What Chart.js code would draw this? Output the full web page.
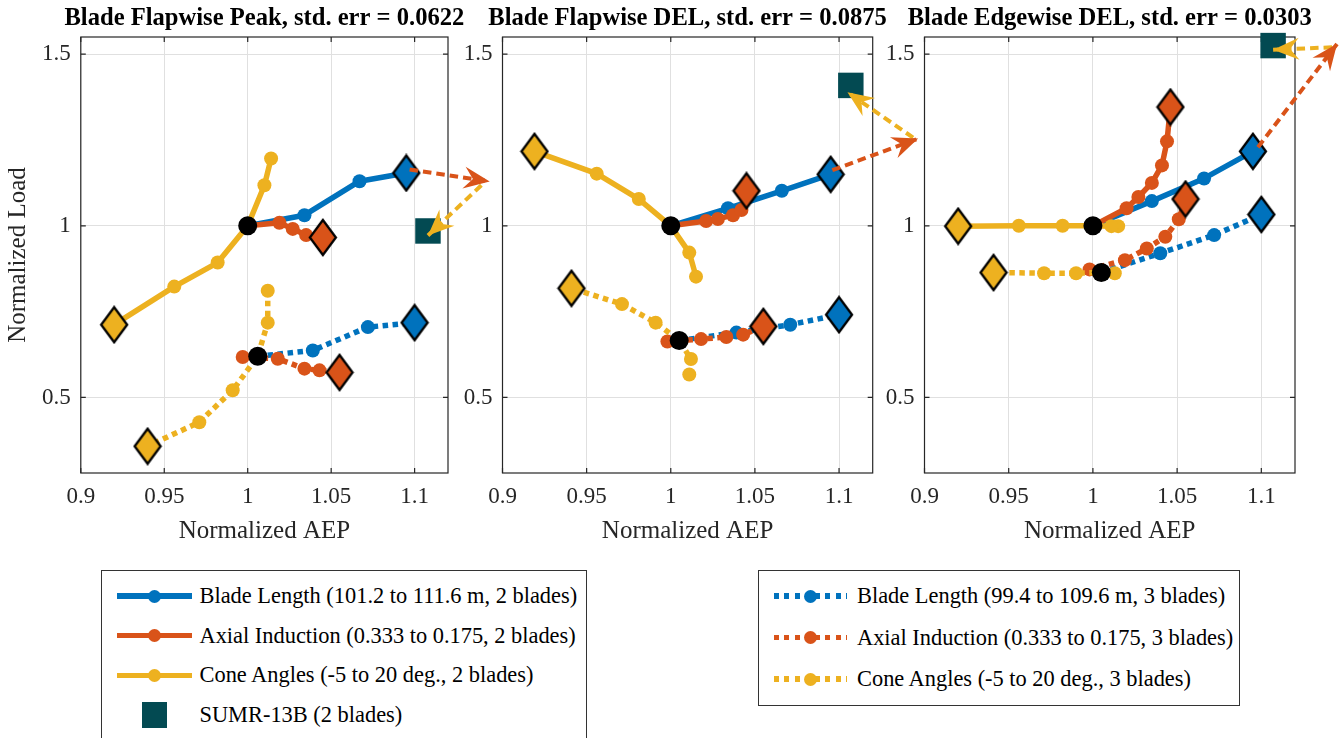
<!DOCTYPE html>
<html>
<head>
<meta charset="utf-8">
<script src="https://cdn.jsdelivr.net/npm/chart.js@4.4.0/dist/chart.umd.min.js"></script>
<style>
html,body{margin:0;padding:0;background:#fff;}
body{width:1340px;height:738px;position:relative;overflow:hidden;font-family:'Liberation Serif','Times New Roman',serif;}
canvas.cv{position:absolute;top:0;}
.legend{position:absolute;border:1px solid #333;background:#fff;box-sizing:border-box;}
.item{position:absolute;left:0;right:0;height:0;}
.txt{position:absolute;top:0;transform:translateY(-50%);font-size:22.4px;line-height:1;color:#000;white-space:nowrap;}
.solid{position:absolute;height:5.5px;top:-2.75px;}
.dotted{position:absolute;height:5.5px;top:-2.75px;}
.dot{position:absolute;width:13px;height:13px;border-radius:50%;top:-6.5px;}
.sq{position:absolute;width:25px;height:26px;top:-13px;}
</style>
</head>
<body>
<canvas class="cv" id="c1" width="500" height="560" style="left:0px;width:500px;height:560px"></canvas>
<canvas class="cv" id="c2" width="500" height="560" style="left:440px;width:500px;height:560px"></canvas>
<canvas class="cv" id="c3" width="480" height="560" style="left:860px;width:480px;height:560px"></canvas>
<div id="leg1" class="legend" style="left:101px;top:570px;width:486px;height:200px"></div>
<div id="leg2" class="legend" style="left:758px;top:570px;width:482px;height:136px"></div>
<script>
// ---------------- DATA ----------------
const xTicks = [0.9, 0.95, 1, 1.05, 1.1];
const xTickLabels = ['0.9', '0.95', '1', '1.05', '1.1'];
const yTicks = [0.5, 1, 1.5];
const yTickLabels = ['0.5', '1', '1.5'];
const panelTitles = ['Blade Flapwise Peak, std. err = 0.0622', 'Blade Flapwise DEL, std. err = 0.0875', 'Blade Edgewise DEL, std. err = 0.0303'];
const legendLabels2 = ['Blade Length (101.2 to 111.6 m, 2 blades)', 'Axial Induction (0.333 to 0.175, 2 blades)', 'Cone Angles (-5 to 20 deg., 2 blades)', 'SUMR-13B (2 blades)'];
const legendLabels3 = ['Blade Length (99.4 to 109.6 m, 3 blades)', 'Axial Induction (0.333 to 0.175, 3 blades)', 'Cone Angles (-5 to 20 deg., 3 blades)'];

// Panel 1: Blade Flapwise Peak  ([AEP, Load] pairs; last point = end marker)
const p1Len2  = [[1.000,1.000],[1.034,1.031],[1.067,1.130],[1.095,1.154]];
const p1Ind2  = [[1.000,1.000],[1.019,1.009],[1.027,0.991],[1.035,0.973],[1.045,0.966]];
const p1Cone2 = [[1.014,1.196],[1.010,1.118],[1.000,1.000],[0.982,0.893],[0.956,0.823],[0.920,0.712]];
const p1Len3  = [[1.006,0.620],[1.039,0.637],[1.072,0.705],[1.100,0.718]];
const p1Ind3  = [[0.997,0.618],[1.018,0.613],[1.034,0.584],[1.043,0.579],[1.055,0.573]];
const p1Cone3 = [[1.012,0.811],[1.012,0.718],[1.006,0.620],[0.991,0.521],[0.971,0.428],[0.940,0.358]];
const p1Base  = [[1.000,1.000],[1.006,0.620]];
const p1Sumr  = [[1.108,0.985]];
const p1ArrowInd  = [[1.097,1.164],[1.145,1.129]];
const p1ArrowCone = [[1.140,1.118],[1.108,0.972]];

// Panel 2: Blade Flapwise DEL
const p2Len2  = [[1.000,1.000],[1.034,1.051],[1.066,1.102],[1.095,1.150]];
const p2Ind2  = [[1.000,1.000],[1.021,1.014],[1.028,1.020],[1.037,1.031],[1.042,1.046],[1.045,1.102]];
const p2Cone2 = [[1.015,0.852],[1.011,0.922],[1.000,1.000],[0.981,1.078],[0.956,1.152],[0.919,1.217]];
const p2Len3  = [[1.005,0.666],[1.039,0.689],[1.071,0.712],[1.100,0.741]];
const p2Ind3  = [[0.998,0.663],[1.018,0.670],[1.033,0.676],[1.043,0.683],[1.055,0.707]];
const p2Cone3 = [[1.011,0.567],[1.012,0.612],[1.005,0.666],[0.991,0.718],[0.971,0.772],[0.941,0.818]];
const p2Base  = [[1.000,1.000],[1.005,0.666]];
const p2Sumr  = [[1.107,1.409]];
const p2ArrowInd  = [[1.096,1.162],[1.147,1.254]];
const p2ArrowCone = [[1.144,1.257],[1.105,1.389]];

// Panel 3: Blade Edgewise DEL
const p3Len2  = [[1.000,1.000],[1.035,1.072],[1.066,1.138],[1.095,1.217]];
const p3Ind2  = [[1.000,1.000],[1.020,1.051],[1.027,1.084],[1.035,1.125],[1.041,1.176],[1.044,1.246],[1.046,1.346]];
const p3Cone2 = [[1.015,0.999],[1.011,0.999],[1.000,1.000],[0.982,1.000],[0.956,1.000],[0.920,0.999]];
const p3Len3  = [[1.005,0.864],[1.040,0.920],[1.072,0.973],[1.100,1.033]];
const p3Ind3  = [[0.998,0.873],[1.019,0.900],[1.032,0.934],[1.043,0.968],[1.051,1.019],[1.055,1.078]];
const p3Cone3 = [[1.013,0.862],[1.005,0.864],[0.990,0.862],[0.971,0.862],[0.941,0.864]];
const p3Base  = [[1.000,1.000],[1.005,0.864]];
const p3Sumr  = [[1.107,1.525]];
const p3ArrowInd  = [[1.098,1.229],[1.145,1.530]];
const p3ArrowCone = [[1.142,1.520],[1.107,1.513]];

// ---------------- STYLE ----------------
const FONT = "'Liberation Serif','Times New Roman',serif";
const BLUE = '#0072BD', ORANGE = '#D95319', YELLOW = '#EDB120', SUMR = '#034A52';
const AX = '#262626';

function diamondImg(color) {
  const c = document.createElement('canvas');
  c.width = 30; c.height = 39;
  const g = c.getContext('2d');
  g.beginPath();
  g.moveTo(15, 2); g.lineTo(28, 19.5); g.lineTo(15, 37); g.lineTo(2, 19.5); g.closePath();
  g.fillStyle = color; g.fill();
  g.lineWidth = 2.3; g.strokeStyle = '#000'; g.lineJoin = 'miter'; g.stroke();
  return c;
}
const DIAMONDS = {[BLUE]: diamondImg(BLUE), [ORANGE]: diamondImg(ORANGE), [YELLOW]: diamondImg(YELLOW)};

const toXY = arr => arr.map(([x, y]) => ({x, y}));

function series(arr, color, dotted, order) {
  const n = arr.length;
  return {
    data: toXY(arr),
    showLine: true,
    borderColor: color,
    backgroundColor: color,
    borderWidth: 5.5,
    borderDash: dotted ? [5.5, 4.5] : [],
    borderCapStyle: 'butt',
    borderJoinStyle: 'round',
    pointStyle: ctx => (ctx.dataIndex === n - 1 ? DIAMONDS[color] : 'circle'),
    pointRadius: 7,
    pointBackgroundColor: color,
    pointBorderWidth: 0,
    order
  };
}
function baseline(arr) {
  return {data: toXY(arr), showLine: false, pointStyle: 'circle', pointRadius: 9.5,
    pointBackgroundColor: '#000', pointBorderWidth: 0, order: 2};
}
function sumr(arr) {
  return {data: toXY(arr), showLine: false, pointStyle: 'rect', pointRadius: 18,
    pointBackgroundColor: SUMR, pointBorderWidth: 0, clip: false, order: 1};
}
function arrow(arr, color) {
  return {data: toXY(arr), showLine: true, borderColor: color, borderWidth: 4,
    borderDash: [8.5, 5], borderCapStyle: 'butt', pointRadius: 0, clip: false,
    arrowHead: true, order: 0};
}

const arrowPlugin = {
  id: 'arrowHeads',
  afterDatasetsDraw(chart) {
    const ctx = chart.ctx;
    chart.data.datasets.forEach((ds, i) => {
      if (!ds.arrowHead) return;
      const pts = chart.getDatasetMeta(i).data;
      const a = pts[pts.length - 2], b = pts[pts.length - 1];
      const dx = b.x - a.x, dy = b.y - a.y, len = Math.hypot(dx, dy);
      const ux = dx / len, uy = dy / len, nx = -uy, ny = ux;
      const L = 26, W = 11, N = 17;
      ctx.save();
      ctx.fillStyle = ds.borderColor;
      ctx.beginPath();
      ctx.moveTo(b.x, b.y);
      ctx.lineTo(b.x - L * ux + W * nx, b.y - L * uy + W * ny);
      ctx.lineTo(b.x - N * ux, b.y - N * uy);
      ctx.lineTo(b.x - L * ux - W * nx, b.y - L * uy - W * ny);
      ctx.closePath();
      ctx.fill();
      ctx.restore();
    });
  }
};

const boxPlugin = {
  id: 'axesBox',
  beforeDatasetsDraw(chart) {
    const {ctx, chartArea: ca, scales} = chart;
    ctx.save();
    ctx.strokeStyle = AX; ctx.lineWidth = 1.2;
    ctx.strokeRect(ca.left, ca.top, ca.right - ca.left, ca.bottom - ca.top);
    const T = 5;
    ctx.beginPath();
    scales.x.ticks.forEach(t => {
      const px = scales.x.getPixelForValue(t.value);
      ctx.moveTo(px, ca.bottom); ctx.lineTo(px, ca.bottom - T);
      ctx.moveTo(px, ca.top); ctx.lineTo(px, ca.top + T);
    });
    scales.y.ticks.forEach(t => {
      const py = scales.y.getPixelForValue(t.value);
      ctx.moveTo(ca.left, py); ctx.lineTo(ca.left + T, py);
      ctx.moveTo(ca.right, py); ctx.lineTo(ca.right - T, py);
    });
    ctx.stroke();
    ctx.restore();
  }
};

const titlePlugin = {
  id: 'panelTitle',
  afterDraw(chart, args, opts) {
    const {ctx, chartArea: ca} = chart;
    ctx.save();
    ctx.font = 'bold 24.6px ' + FONT;
    ctx.fillStyle = '#000';
    ctx.textAlign = 'center';
    ctx.textBaseline = 'middle';
    ctx.fillText(opts.text, (ca.left + ca.right) / 2, 19);
    ctx.restore();
  }
};

function makePanel(id, idx, yWidth, padRight, len2, ind2, cone2, len3, ind3, cone3, base, sq, arrInd, arrCone) {
  const datasets = [
    arrow(arrInd, ORANGE),
    arrow(arrCone, YELLOW),
    sumr(sq),
    baseline(base),
    series(cone3, YELLOW, true, 3),
    series(ind3, ORANGE, true, 4),
    series(len3, BLUE, true, 5),
    series(cone2, YELLOW, false, 6),
    series(ind2, ORANGE, false, 7),
    series(len2, BLUE, false, 8)
  ];
  new Chart(document.getElementById(id), {
    type: 'scatter',
    data: {datasets},
    plugins: [boxPlugin, arrowPlugin, titlePlugin],
    options: {
      responsive: false,
      animation: false,
      events: [],
      layout: {padding: {top: 37, left: 0, right: padRight, bottom: 0}},
      plugins: {legend: {display: false}, tooltip: {enabled: false}, panelTitle: {text: panelTitles[idx]}},
      scales: {
        x: {
          type: 'linear', min: 0.9, max: 1.12,
          afterBuildTicks: s => { s.ticks = xTicks.map(v => ({value: v})); },
          afterFit: s => { s.height = 87; },
          grid: {color: '#e0e0e0', lineWidth: 1, drawTicks: false},
          border: {display: false},
          ticks: {padding: 10, color: AX, font: {family: FONT, size: 23}, maxRotation: 0,
            callback: (v, i) => xTickLabels[i]},
          title: {display: true, text: 'Normalized AEP', color: AX, font: {family: FONT, size: 25},
            padding: {top: 0, bottom: 14}}
        },
        y: {
          type: 'linear', min: 0.28, max: 1.55,
          afterBuildTicks: s => { s.ticks = yTicks.map(v => ({value: v})); },
          afterFit: s => { s.width = yWidth; },
          grid: {color: '#e0e0e0', lineWidth: 1, drawTicks: false},
          border: {display: false},
          ticks: {padding: 10, color: AX, font: {family: FONT, size: 23},
            callback: (v, i) => yTickLabels[i]},
          title: {display: idx === 0, text: 'Normalized Load', color: AX, font: {family: FONT, size: 25},
            padding: {top: 3, bottom: 0}}
        }
      }
    }
  });
}

makePanel('c1', 0, 80.8, 52, p1Len2, p1Ind2, p1Cone2, p1Len3, p1Ind3, p1Cone3, p1Base, p1Sumr, p1ArrowInd, p1ArrowCone);
makePanel('c2', 1, 62.5, 67.3, p2Len2, p2Ind2, p2Cone2, p2Len3, p2Ind3, p2Cone3, p2Base, p2Sumr, p2ArrowInd, p2ArrowCone);
makePanel('c3', 2, 64.5, 45, p3Len2, p3Ind2, p3Cone2, p3Len3, p3Ind3, p3Cone3, p3Base, p3Sumr, p3ArrowInd, p3ArrowCone);

// ---------------- LEGENDS (HTML) ----------------
function legendRow(box, y, label, color, kind, sampleLeft, sampleW, textLeft) {
  const it = document.createElement('div');
  it.className = 'item'; it.style.top = y + 'px';
  if (kind === 'solid' || kind === 'dotted') {
    const ln = document.createElement('div');
    ln.className = kind;
    ln.style.left = sampleLeft + 'px'; ln.style.width = sampleW + 'px';
    ln.style.background = kind === 'solid' ? color
      : 'repeating-linear-gradient(90deg,' + color + ' 0 5px, transparent 5px 10.3px)';
    it.appendChild(ln);
    const d = document.createElement('div');
    d.className = 'dot'; d.style.background = color;
    d.style.left = (sampleLeft + sampleW / 2 - 6.5) + 'px';
    it.appendChild(d);
  } else {
    const s = document.createElement('div');
    s.className = 'sq'; s.style.background = color;
    s.style.left = (sampleLeft + sampleW / 2 - 12.5) + 'px';
    it.appendChild(s);
  }
  const t = document.createElement('div');
  t.className = 'txt'; t.style.left = textLeft + 'px'; t.textContent = label;
  it.appendChild(t);
  box.appendChild(it);
}
const leg1 = document.getElementById('leg1');
const colors2 = [BLUE, ORANGE, YELLOW, SUMR];
legendLabels2.forEach((lab, i) => legendRow(leg1, 25 + i * 39.7, lab, colors2[i], i < 3 ? 'solid' : 'square', 14.5, 75, 97.5));
const leg2 = document.getElementById('leg2');
legendLabels3.forEach((lab, i) => legendRow(leg2, 25 + i * 41.6, lab, colors2[i], 'dotted', 15, 73, 98));
</script>
</body>
</html>
